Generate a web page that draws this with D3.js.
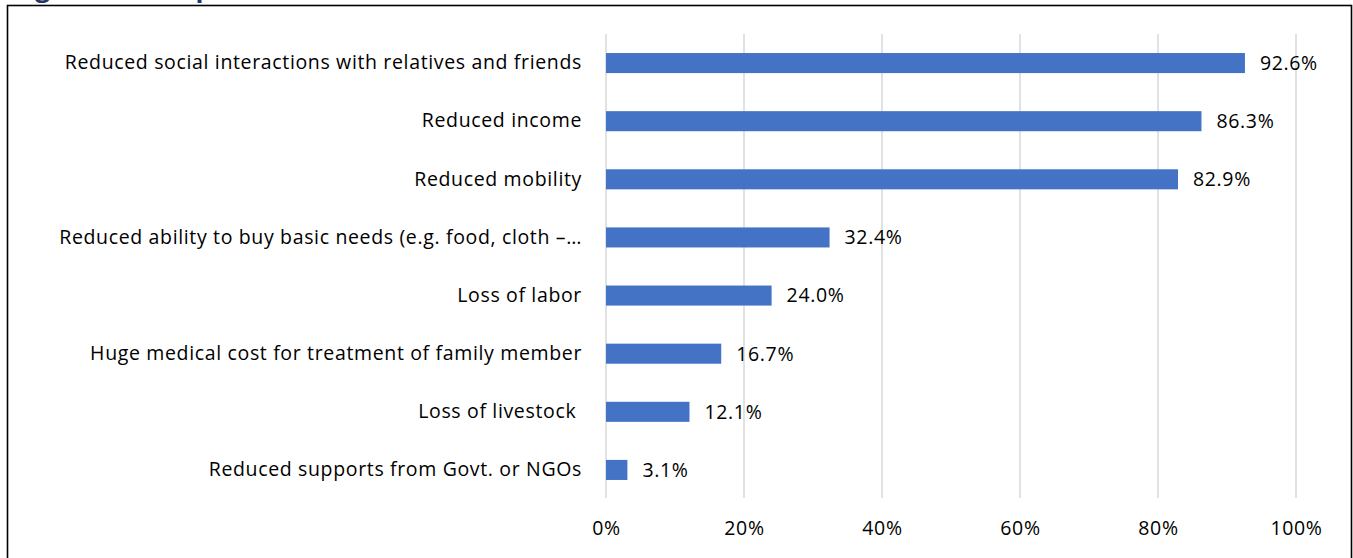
<!DOCTYPE html>
<html><head><meta charset="utf-8">
<script src="https://cdn.jsdelivr.net/npm/d3@7"></script>
<style>
html,body{margin:0;padding:0;background:#fff;}
svg{display:block;}
text{white-space:pre;}
</style></head>
<body>
<svg id="c" width="1353" height="558"></svg>
<script>
const categories = [
  "Reduced social interactions with relatives and friends",
  "Reduced income",
  "Reduced mobility",
  "Reduced ability to buy basic needs (e.g. food, cloth –…",
  "Loss of labor",
  "Huge medical cost for treatment of family member",
  "Loss of livestock ",
  "Reduced supports from Govt. or NGOs"
];
const values = [92.6, 86.3, 82.9, 32.4, 24.0, 16.7, 12.1, 3.1];
const tickValues = [0, 20, 40, 60, 80, 100];
const titleText = "Figure 10: Impacts of COVID-19";

const svg = d3.select("#c");
const font = "'Open Sans', 'Noto Sans', sans-serif";
const fs = 19.5, ls = 0.65;

// title (cut off at top in the reference)
svg.append("text").attr("x", 10).attr("y", -3)
  .attr("font-family", font).attr("font-weight", "bold").attr("font-size", 26)
  .attr("letter-spacing", 1.5)
  .attr("fill", "#1F3864").text(titleText);

// frame
svg.append("rect").attr("x", 7.5).attr("y", 5.5).attr("width", 1344).attr("height", 600)
  .attr("fill", "none").attr("stroke", "#000").attr("stroke-width", 1.6);

const x = d3.scaleLinear().domain([0, 100]).range([606, 1296]);
const y = d3.scaleBand().domain(categories).range([34, 499]).paddingInner(0.655).paddingOuter(0.3275);

// gridlines
svg.append("g").selectAll("line").data(tickValues).join("line")
  .attr("x1", d => x(d)).attr("x2", d => x(d))
  .attr("y1", 34).attr("y2", 498)
  .attr("stroke", "#D9D9D9").attr("stroke-width", 1.5);

// x-axis labels via d3 axis
const xAxis = d3.axisBottom(x).tickValues(tickValues).tickFormat(d => d + "%").tickSize(0).tickPadding(0);
const gx = svg.append("g").attr("transform", "translate(0,521)").call(xAxis);
gx.select(".domain").remove();
gx.selectAll("text").attr("font-family", font).attr("font-size", fs).attr("letter-spacing", ls).attr("fill", "#000");

// bars
svg.append("g").selectAll("rect").data(values).join("rect")
  .attr("x", x(0)).attr("y", (d, i) => y(categories[i]))
  .attr("width", d => x(d) - x(0)).attr("height", y.bandwidth())
  .attr("fill", "#4472C4");

// value labels
svg.append("g").selectAll("text").data(values).join("text")
  .attr("x", d => x(d) + 15).attr("y", (d, i) => y(categories[i]) + y.bandwidth() / 2)
  .attr("dy", "0.35em").attr("font-family", font).attr("font-size", fs).attr("letter-spacing", ls).attr("fill", "#000")
  .text(d => d.toFixed(1) + "%");

// category labels via d3 axis
const yAxis = d3.axisLeft(y).tickSize(0).tickPadding(24);
const gy = svg.append("g").attr("transform", `translate(${x(0)},0)`).call(yAxis);
gy.select(".domain").remove();
gy.selectAll("text").attr("font-family", font).attr("font-size", fs).attr("letter-spacing", ls).attr("fill", "#000");
</script>
</body></html>
